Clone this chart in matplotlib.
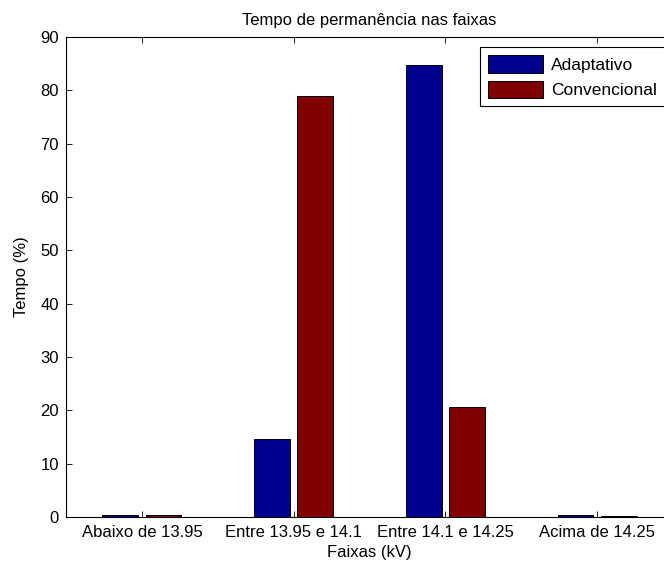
"""
Tempo de permanência nas faixas - grouped bar chart (MATLAB-like style).
"""

import numpy as np
import matplotlib
matplotlib.use("Agg")
import matplotlib.pyplot as plt

#####################################
# Data
#####################################

faixas = ["Abaixo de 13.95", "Entre 13.95 e 14.1", "Entre 14.1 e 14.25", "Acima de 14.25"]
adaptativo = [0.3, 14.6, 84.8, 0.3]
convencional = [0.3, 79.0, 20.6, 0.1]

series_names = ["Adaptativo", "Convencional"]

#####################################
# Plot
#####################################

FS = 12

plt.rcParams["font.family"] = ["Liberation Sans", "DejaVu Sans"]
plt.rcParams["font.size"] = FS

fig = plt.figure(figsize=(6.64, 5.63), dpi=100)
ax = fig.add_axes([66 / 664, 46 / 563, 607 / 664, 480 / 563])

x = np.arange(1, len(faixas) + 1)
w = 0.235
off = 0.142

ax.bar(x - off, adaptativo, width=w, color="#00008f", edgecolor="black",
       linewidth=0.7, label=series_names[0])
ax.bar(x + off, convencional, width=w, color="#800000", edgecolor="black",
       linewidth=0.7, label=series_names[1])

ax.set_xlim(0.5, 4.5)
ax.set_ylim(0, 90)
ax.set_yticks(np.arange(0, 91, 10))
ax.set_xticks(x)
ax.set_xticklabels(faixas)

ax.tick_params(direction="in", top=True, right=True, length=4, width=0.6,
               labelsize=FS, pad=5)
ax.tick_params(axis="x", pad=6)
for s in ax.spines.values():
    s.set_linewidth(0.8)

ax.set_title("Tempo de permanência nas faixas", fontsize=FS, pad=9)
ax.set_xlabel("Faixas (kV)", fontsize=FS, labelpad=3)
ax.set_ylabel("Tempo (%)", fontsize=FS, labelpad=8)

leg = ax.legend(loc="upper right", bbox_to_anchor=(0.987, 0.979), fontsize=12.5,
                fancybox=False, framealpha=1, edgecolor="black",
                handlelength=3.15, handleheight=1.2, handletextpad=0.5,
                borderpad=0.45, labelspacing=0.45, borderaxespad=0)
leg.get_frame().set_linewidth(0.8)

fig.savefig("out.png", dpi=100)
